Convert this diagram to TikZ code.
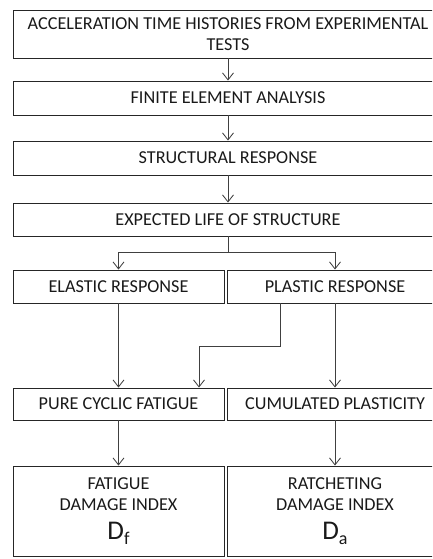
\documentclass[tikz,border=0pt]{standalone}
\usepackage{fontspec}
\setmainfont{Carlito}
\usetikzlibrary{arrows.meta}
\begin{document}
\begin{tikzpicture}[x=1pt, y=-1pt, font=\fontsize{18.2}{21}\selectfont,
    box/.style={draw=black!85, line width=0.9pt, inner sep=0pt, align=center, text=black!90},
    flow/.style={-{Straight Barb[length=7pt,width=11pt]}, draw=black!75, line width=0.85pt}]

\useasboundingbox (0,0) rectangle (432,559);
\clip (0,0) rectangle (432,559);

\node[box, minimum width=430, minimum height=48] (accel)
    at (228,34) {ACCELERATION TIME HISTORIES FROM EXPERIMENTAL\\ TESTS};

\node[box, minimum width=430, minimum height=34] (fem)
    at (228,98) {FINITE ELEMENT ANALYSIS};

\node[box, minimum width=430, minimum height=34] (resp)
    at (228,158) {STRUCTURAL RESPONSE};

\node[box, minimum width=430, minimum height=33] (life)
    at (228,219.5) {EXPECTED LIFE OF STRUCTURE};

\node[box, minimum width=211, minimum height=33] (elastic)
    at (118.5,286.5) {ELASTIC RESPONSE};

\node[box, minimum width=216, minimum height=33] (plastic)
    at (335,286.5) {PLASTIC RESPONSE};

\node[box, minimum width=211, minimum height=32] (cyclic)
    at (118.5,404) {PURE CYCLIC FATIGUE};

\node[box, minimum width=216, minimum height=32] (cumul)
    at (335,404) {CUMULATED PLASTICITY};

\node[box, minimum width=211, minimum height=90] (fatigue)
    at (118.5,511) {FATIGUE\\ DAMAGE INDEX\\[8pt] {\fontsize{27}{27}\selectfont D}\raisebox{-5pt}{\fontsize{18}{18}\selectfont f}};

\node[box, minimum width=216, minimum height=90] (ratchet)
    at (335,511) {RATCHETING\\ DAMAGE INDEX\\[8pt] {\fontsize{27}{27}\selectfont D}\raisebox{-5pt}{\fontsize{18}{18}\selectfont a}};

\draw[flow] (accel) -- (fem);
\draw[flow] (fem) -- (resp);
\draw[flow] (resp) -- (life);
\draw[flow] (life.south) -- ++(0,16) -| (elastic.north);
\draw[flow] (life.south) -- ++(0,16) -| (plastic.north);
\draw[flow] (elastic) -- (cyclic);
\draw[flow] ([xshift=-55]plastic.south) -- ++(0,43) -| ([xshift=80.5]cyclic.north);
\draw[flow] (plastic) -- (cumul);
\draw[flow] (cyclic) -- (fatigue);
\draw[flow] (cumul) -- (ratchet);

\end{tikzpicture}
\end{document}
